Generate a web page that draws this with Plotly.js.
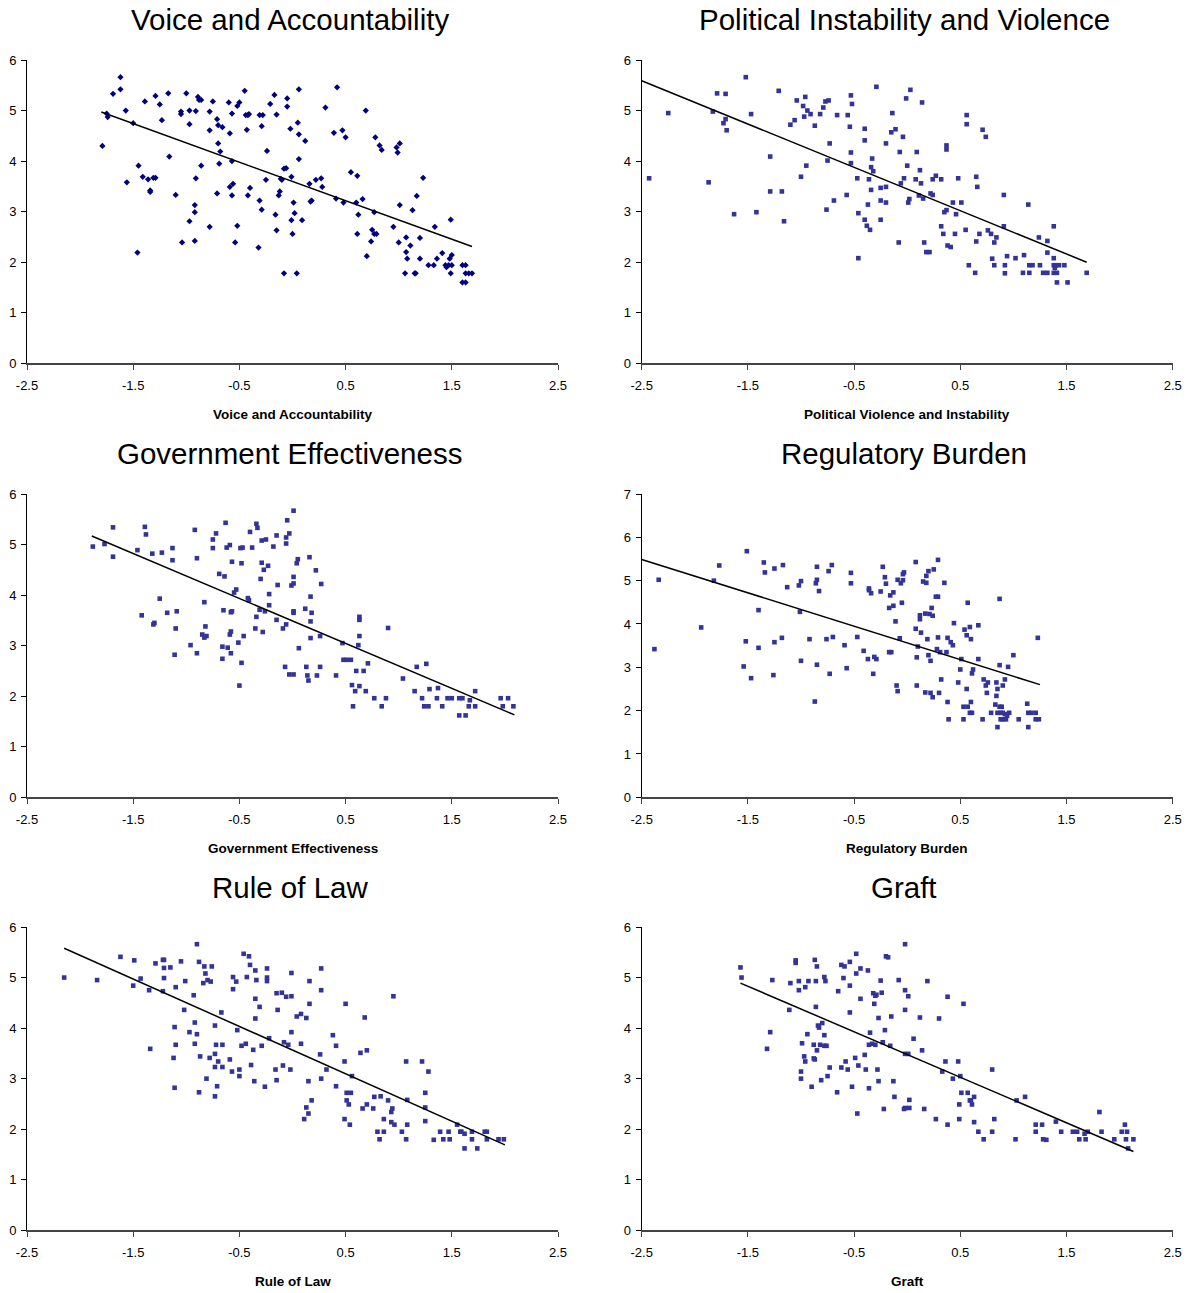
<!DOCTYPE html>
<html>
<head>
<meta charset="utf-8">
<script src="https://cdn.plot.ly/plotly-3.0.1.min.js"></script>
<style>html,body{margin:0;padding:0;background:#fff;}#chart{width:1196px;height:1293px;}</style>
</head>
<body>
<div id="chart"></div>
<script>
// ---------- data ----------
var panelTitles = ["Voice and Accountability", "Political Instability and Violence", "Government Effectiveness", "Regulatory Burden", "Rule of Law", "Graft"];
var axisTitles = ["Voice and Accountability", "Political Violence and Instability", "Government Effectiveness", "Regulatory Burden", "Rule of Law", "Graft"];
var xTickVals = [-2.5, -1.5, -0.5, 0.5, 1.5, 2.5];
var xTickText = ["-2.5", "-1.5", "-0.5", "0.5", "1.5", "2.5"];
var yMax = [6, 6, 6, 7, 6, 6];

var va_x = [-1.79,-1.75,-1.74,-1.69,-1.62,-1.62,-1.57,-1.56,-1.50,-1.46,
-1.45,-1.41,-1.39,-1.36,-1.34,-1.34,-1.31,-1.29,-1.29,-1.25,
-1.23,-1.17,-1.16,-1.10,-1.05,-1.05,-1.04,-1.00,-0.97,-0.97,
-0.97,-0.92,-0.92,-0.92,-0.91,-0.91,-0.89,-0.88,-0.86,-0.86,
-0.78,-0.78,-0.78,-0.75,-0.71,-0.71,-0.70,-0.70,-0.69,-0.68,
-0.66,-0.60,-0.59,-0.59,-0.57,-0.57,-0.57,-0.56,-0.54,-0.52,
-0.52,-0.50,-0.45,-0.44,-0.43,-0.42,-0.41,-0.42,-0.40,-0.32,
-0.31,-0.31,-0.29,-0.29,-0.28,-0.25,-0.24,-0.21,-0.17,-0.16,
-0.15,-0.15,-0.13,-0.12,-0.11,-0.10,-0.08,-0.08,-0.06,-0.05,
-0.05,-0.02,-0.01,0.00,-0.01,0.01,0.02,0.04,0.05,0.06,
0.06,0.06,
0.09,0.12,0.16,0.17,0.18,0.22,0.27,0.28,0.31,0.39,
0.41,0.42,0.47,0.48,0.50,0.55,0.60,0.61,0.61,0.62,
0.66,0.69,0.70,0.74,0.75,0.77,0.77,0.79,0.78,0.82,
0.84,0.95,0.98,0.99,1.01,1.00,1.01,1.07,1.07,1.08,
1.06,1.11,1.13,1.15,1.16,1.17,1.20,1.20,1.23,1.28,
1.33,1.34,1.36,1.41,1.44,1.45,1.47,1.48,1.49,1.50,
1.49,1.50,1.60,1.63,1.60,1.63,1.63,1.66,1.69];
var va_y = [4.30,4.94,4.87,5.33,5.66,5.42,5.00,3.58,4.75,2.19,
3.91,3.69,5.18,3.64,3.42,3.39,3.67,3.67,5.29,5.12,
4.81,5.34,4.09,3.33,4.98,4.93,2.39,5.34,4.73,5.00,
2.81,3.13,2.99,2.42,4.99,3.66,5.27,5.21,5.21,3.91,
4.98,4.61,2.70,5.18,4.83,3.36,4.71,4.35,3.95,4.19,
4.67,5.16,4.55,3.49,4.94,4.00,3.32,3.55,2.39,2.72,
5.09,5.16,5.39,4.91,4.62,4.91,4.93,3.32,3.47,2.29,
4.91,3.22,3.04,4.69,4.91,3.63,4.20,5.13,5.31,2.94,
4.92,2.63,3.32,3.40,3.65,3.63,1.78,3.85,3.86,5.24,
5.08,4.64,3.69,2.56,2.83,3.18,2.97,1.78,4.76,5.42,
4.53,4.04,
2.83,4.40,3.55,3.20,3.22,3.63,3.66,3.49,5.06,4.56,
3.26,5.46,4.61,3.18,4.47,3.78,3.18,3.71,2.56,2.94,
3.25,5.00,2.12,2.41,2.64,2.99,2.56,2.56,4.47,4.31,
4.22,2.70,4.27,4.17,4.35,2.39,3.13,2.49,2.20,2.07,
1.78,2.33,3.03,1.78,1.78,3.31,2.48,2.07,3.67,1.94,
1.94,2.70,2.07,2.18,1.94,1.90,1.94,2.07,2.84,2.14,
1.78,1.94,1.94,1.94,1.60,1.60,1.78,1.78,1.78];

var pv_x = [-2.43,-2.25,-1.87,-1.83,-1.79,-1.73,-1.71,-1.71,-1.70,-1.63,
-1.52,-1.47,-1.42,-1.29,-1.29,-1.21,-1.18,-1.16,-1.10,-1.06,
-1.04,-1.00,-0.98,-0.97,-0.96,-0.95,-0.94,-0.91,-0.87,-0.82,
-0.79,-0.77,-0.76,-0.75,-0.74,-0.73,-0.69,-0.66,-0.57,-0.56,
-0.54,-0.53,-0.52,-0.53,-0.53,-0.47,-0.46,-0.46,-0.40,-0.40,
-0.40,-0.38,-0.37,-0.36,-0.35,-0.34,-0.34,-0.33,-0.32,-0.29,
-0.25,-0.25,-0.25,-0.20,-0.20,-0.20,-0.15,-0.14,-0.11,-0.08,
-0.07,-0.06,-0.04,-0.03,-0.01,0.00,0.01,0.02,0.03,
0.09,0.12,0.08,0.13,0.11,0.15,0.14,0.16,0.18,0.21,
0.22,0.24,0.24,0.27,0.32,0.32,0.34,0.35,0.37,0.37,
0.37,0.38,0.41,0.43,0.45,0.46,0.48,0.51,0.55,0.56,
0.56,0.58,0.64,0.65,0.65,0.66,0.68,0.71,0.74,0.76,
0.79,0.82,0.84,0.80,0.82,0.91,0.91,0.92,0.92,0.94,
1.02,1.09,1.10,1.14,1.15,1.15,1.18,1.24,1.25,1.28,
1.32,1.32,1.32,1.38,1.38,1.38,1.39,1.40,1.43,1.38,
1.41,1.41,1.48,1.51,1.69];
var pv_y = [3.66,4.95,3.58,4.98,5.34,4.75,5.33,4.83,4.61,2.95,
5.66,4.93,2.99,4.09,3.40,5.39,3.40,2.81,4.72,4.81,
5.20,3.69,5.09,4.88,5.27,3.91,5.00,4.93,4.70,4.93,
5.06,5.18,3.04,4.01,5.20,4.35,3.22,4.91,3.33,4.91,
4.68,5.30,5.13,4.17,3.96,3.66,2.97,2.08,4.64,4.41,
2.84,2.72,3.14,3.64,2.64,3.88,3.43,4.05,3.80,5.47,
3.47,3.22,2.84,3.49,3.18,4.35,4.57,4.95,4.63,2.39,
4.18,3.56,4.48,3.66,5.24,3.91,3.18,3.25,5.41,
4.18,3.82,3.64,3.56,3.32,3.26,5.16,2.39,2.20,2.20,
3.36,3.33,3.64,3.71,3.64,2.71,2.56,2.99,3.03,4.31,
4.23,2.33,2.30,3.18,2.56,2.95,3.66,3.18,2.64,4.91,
4.73,1.94,1.79,2.41,3.69,3.49,2.56,4.62,4.48,2.63,
2.56,2.39,2.49,2.07,1.94,3.33,2.71,1.94,1.78,2.12,
2.08,1.79,2.14,3.14,1.94,1.79,1.94,2.49,1.94,1.79,
1.79,2.42,2.19,2.71,2.08,1.94,1.89,1.94,1.94,1.79,
1.79,1.60,1.94,1.60,1.79];

var ge_x = [-1.88,-1.77,-1.69,-1.69,-1.46,-1.42,-1.39,-1.38,-1.32,-1.31,
-1.30,-1.25,-1.23,-1.18,-1.13,-1.13,-1.11,-1.10,-1.09,-0.96,
-0.92,-0.90,-0.90,-0.85,-0.83,-0.83,-0.82,-0.81,-0.75,-0.75,
-0.72,-0.69,-0.66,-0.66,-0.65,-0.64,-0.63,-0.62,-0.61,-0.59,
-0.59,-0.58,-0.57,-0.58,-0.58,-0.57,-0.55,-0.53,-0.51,-0.50,
-0.49,-0.48,-0.48,-0.47,-0.46,-0.42,-0.41,-0.40,-0.38,-0.35,
-0.34,-0.34,-0.33,-0.31,-0.30,-0.29,-0.29,-0.28,-0.26,-0.27,
-0.25,-0.23,-0.22,-0.22,-0.18,-0.15,-0.15,-0.09,-0.07,-0.06,
-0.06,-0.06,-0.05,-0.03,-0.03,-0.01,0.01,0.01,0.01,0.01,
0.01,0.01,0.04,0.05,0.06,-0.14,
0.12,0.13,0.14,0.15,0.16,0.17,0.18,0.17,0.17,0.22,
0.23,0.26,0.26,0.27,0.41,0.47,0.48,0.51,0.55,0.56,
0.57,0.59,0.60,0.62,0.63,0.63,0.63,0.63,0.67,0.69,
0.71,0.77,0.84,0.88,0.90,1.04,1.15,1.17,1.22,1.24,
1.26,1.28,1.29,1.36,1.37,1.41,1.46,1.50,1.57,1.60,
1.57,1.63,1.66,1.67,1.72,1.72,1.96,2.03,1.98,2.08];
var ge_y = [4.96,5.01,5.34,4.76,4.89,3.60,5.35,5.20,4.82,3.42,
3.45,3.93,4.84,3.65,4.93,4.69,2.82,3.34,3.68,3.01,
5.29,4.73,2.85,3.22,3.16,3.86,3.38,3.19,5.10,4.93,
5.22,4.42,2.98,2.74,3.70,4.37,5.43,4.94,2.96,3.22,
4.99,3.66,3.68,3.28,2.85,4.66,4.05,4.11,3.06,2.21,
4.93,2.66,4.63,4.94,3.19,3.94,3.90,5.25,4.94,3.34,
3.57,5.41,5.33,3.71,4.32,5.08,4.64,3.27,3.68,4.50,
5.10,4.58,4.02,3.80,4.96,3.51,5.18,3.34,2.58,5.02,
5.14,3.42,5.48,5.22,2.43,4.19,4.36,2.43,4.23,5.67,
3.65,3.68,4.63,4.71,2.95,4.20,
3.73,2.58,2.41,2.31,4.75,3.97,3.65,3.48,3.15,4.49,
2.41,2.58,3.19,4.22,2.41,3.05,2.72,2.72,2.72,2.22,
1.80,2.10,2.50,3.01,3.57,3.51,2.20,3.19,2.50,2.10,
2.65,1.96,1.80,1.96,3.35,2.35,2.10,2.58,1.96,1.80,
2.64,1.80,2.14,1.96,2.16,1.80,1.96,1.96,1.96,1.96,
1.62,1.62,1.80,1.92,2.10,1.80,1.96,1.96,1.80,1.80];

var rb_x = [-2.38,-2.34,-1.94,-1.82,-1.77,-1.54,-1.52,-1.51,-1.47,-1.40,
-1.40,-1.35,-1.34,-1.26,-1.25,-1.25,-1.18,-1.17,-1.13,-1.02,
-1.01,-1.00,-1.00,-0.92,-0.87,-0.86,-0.85,-0.85,-0.85,-0.83,
-0.76,-0.74,-0.73,-0.71,-0.70,-0.59,-0.57,-0.53,-0.53,-0.47,
-0.41,-0.37,-0.36,-0.36,-0.34,-0.32,-0.31,-0.29,-0.25,-0.23,
-0.21,-0.20,-0.17,-0.17,-0.16,-0.15,-0.13,-0.13,-0.11,-0.10,
-0.09,-0.09,-0.07,-0.06,-0.05,-0.04,-0.04,-0.03,
0.08,0.29,0.25,0.20,0.18,0.15,0.18,0.35,0.27,0.29,
0.57,0.87,0.23,0.12,0.12,0.17,0.21,0.24,0.44,0.08,
0.13,0.54,0.59,0.67,0.56,0.60,0.19,0.29,0.38,0.41,
0.43,0.10,0.28,0.31,0.37,1.23,0.09,0.20,0.22,0.51,
0.67,1.00,0.50,0.62,0.61,0.87,0.95,0.32,0.48,0.72,
0.76,0.74,0.84,0.90,0.92,0.85,0.56,0.09,0.17,0.22,
0.24,0.30,0.75,0.84,0.38,0.53,0.57,0.60,0.59,0.61,
0.79,0.83,0.87,0.89,0.85,0.88,0.90,0.92,0.96,0.94,
1.13,1.14,1.17,1.21,0.39,0.53,0.71,0.88,0.90,0.93,
1.05,1.21,1.24,0.85,1.14];
var rb_y = [3.42,5.02,3.92,5.00,5.35,3.02,3.60,5.68,2.75,4.32,
3.45,5.42,5.19,2.82,3.58,5.28,3.68,5.36,4.85,4.89,
4.28,3.15,4.99,3.65,2.21,4.94,3.06,5.02,5.32,4.76,
3.65,5.22,2.85,5.36,3.70,3.51,2.98,5.18,4.94,3.70,
3.38,3.19,4.78,4.82,4.71,2.85,3.24,3.19,4.75,5.32,
5.08,4.93,3.35,4.37,4.66,3.35,4.42,4.73,4.06,2.58,
2.45,5.02,3.67,4.94,4.49,5.01,5.15,5.19,
5.43,5.48,5.26,5.22,5.11,4.98,4.95,4.95,4.63,4.63,
4.49,4.58,4.37,4.20,4.11,4.24,4.23,4.19,4.02,3.89,
3.80,3.87,3.93,3.97,3.74,3.65,3.65,3.69,3.68,3.58,
3.51,3.48,3.42,3.35,3.35,3.68,3.23,3.28,3.15,3.19,
3.19,3.28,2.95,2.95,2.86,3.05,3.01,2.72,2.65,2.72,
2.65,2.58,2.65,2.58,2.72,2.50,2.50,2.58,2.42,2.41,
2.31,2.41,2.41,2.34,2.20,2.09,2.09,2.20,1.95,1.95,
1.95,2.14,2.09,2.09,1.95,1.95,1.95,1.92,1.95,1.88,
2.16,1.95,1.95,1.95,1.80,1.80,1.80,1.80,1.80,1.80,
1.80,1.80,1.80,1.62,1.62];

var rl_x = [-2.15,-1.84,-1.62,-1.50,-1.49,-1.43,-1.35,-1.34,-1.29,-1.22,
-1.21,-1.22,-1.21,-1.21,-1.15,-1.11,-1.10,-1.12,-1.11,-1.10,
-1.05,-1.02,-1.01,-0.97,-0.93,-0.92,-0.92,-0.90,-0.90,-0.88,
-0.88,-0.87,-0.84,-0.83,-0.82,-0.81,-0.80,-0.78,-0.77,-0.76,
-0.73,-0.73,-0.73,-0.73,-0.72,-0.71,-0.70,-0.67,-0.66,-0.66,
-0.59,-0.57,-0.56,-0.56,-0.53,-0.52,-0.50,-0.50,-0.48,-0.46,
-0.44,-0.43,-0.41,-0.40,-0.39,-0.37,-0.36,-0.35,-0.35,-0.35,
-0.34,-0.31,-0.29,-0.26,-0.24,-0.24,-0.24,-0.22,-0.16,-0.15,
-0.15,-0.14,-0.10,-0.09,-0.08,-0.06,-0.04,-0.02,-0.01,-0.01,
-0.01,0.04,0.08,0.08,
0.16,0.27,0.27,0.16,0.13,0.15,0.18,0.13,0.15,0.11,
0.26,0.27,0.32,0.38,0.41,0.41,0.50,0.49,0.51,0.55,
0.51,0.53,0.49,0.54,0.56,0.64,0.68,0.70,0.66,0.70,
0.76,0.77,0.83,0.80,0.86,0.82,0.86,0.90,0.93,0.94,
0.93,0.96,0.95,1.03,1.07,1.07,1.08,1.08,1.22,1.25,
1.25,1.25,1.28,1.33,1.39,1.42,1.47,1.48,1.55,1.58,
1.59,1.62,1.62,1.69,1.69,1.74,1.81,1.83,1.83,1.94,
1.99];
var rl_y = [5.00,4.95,5.41,4.84,5.34,4.98,4.75,3.59,5.28,5.35,
5.35,4.73,5.19,4.99,5.20,4.02,3.67,3.41,2.82,4.81,
5.32,4.36,4.93,3.92,4.65,4.11,3.69,3.88,5.66,5.31,
2.73,3.44,4.89,5.22,5.08,3.00,4.95,3.41,4.92,5.22,
3.49,4.05,3.23,2.65,3.67,2.85,3.34,4.31,3.23,3.67,
3.38,3.14,5.01,4.77,4.92,3.96,3.18,3.05,3.65,5.47,
3.69,5.01,5.42,5.25,3.27,3.57,2.95,4.58,4.19,5.14,
4.95,4.42,3.65,2.84,5.18,5.00,4.93,3.80,3.18,2.97,
4.69,4.36,4.70,3.26,3.72,4.62,3.67,3.18,5.09,4.63,
3.92,4.23,4.28,3.69,
4.93,5.18,4.75,4.48,4.20,2.95,2.57,2.43,2.31,2.20,
3.48,3.00,3.18,3.86,3.65,2.85,4.48,3.34,2.72,2.72,
2.57,2.49,2.20,2.09,3.05,3.51,4.21,3.56,2.41,2.49,
2.41,2.64,2.65,1.95,1.95,1.80,2.20,2.57,2.34,2.41,
2.14,2.09,4.63,1.95,3.34,1.80,2.58,2.09,3.34,2.72,
2.43,2.16,3.14,1.79,1.95,1.80,1.95,1.80,2.09,1.95,
1.95,1.91,1.62,1.95,1.80,1.62,1.95,1.95,1.80,1.80,
1.80];

var gr_x = [-1.57,-1.56,-1.32,-1.29,-1.27,-1.11,-1.10,-1.05,-1.05,-1.02,
-1.02,-1.00,-1.00,-0.99,-0.97,-0.96,-0.96,-0.94,-0.93,-0.90,
-0.88,-0.88,-0.87,-0.87,-0.86,-0.86,-0.85,-0.85,-0.84,-0.83,
-0.82,-0.81,-0.80,-0.78,-0.78,-0.77,-0.78,-0.76,-0.75,-0.73,
-0.66,-0.65,-0.62,-0.62,-0.60,-0.59,-0.58,-0.56,-0.54,-0.54,
-0.54,-0.52,-0.49,-0.48,-0.48,-0.46,-0.47,-0.44,-0.44,-0.40,
-0.39,-0.37,-0.36,-0.35,-0.36,-0.33,-0.32,-0.31,-0.30,-0.30,
-0.29,-0.28,-0.27,-0.27,-0.25,-0.24,-0.23,-0.22,-0.21,-0.20,
-0.18,-0.16,-0.15,-0.13,-0.12,-0.08,-0.03,-0.02,-0.02,-0.02,
-0.02,-0.02,0.01,0.01,0.02,0.02,
0.06,0.12,0.14,0.16,0.19,0.27,0.30,0.33,0.36,0.38,
0.38,0.43,0.48,0.49,0.50,0.49,0.51,0.53,0.57,0.59,
0.60,0.61,0.63,0.63,0.67,0.72,0.80,0.80,0.82,1.02,
1.03,1.11,1.21,1.21,1.27,1.28,1.31,1.40,1.45,1.56,
1.60,1.62,1.67,1.68,1.70,1.81,1.83,1.95,2.02,2.05,
2.07,2.06,2.08,2.13];
var gr_y = [5.20,5.00,3.59,3.92,4.95,4.36,4.89,5.34,5.29,4.93,
4.75,3.14,3.00,3.70,3.44,3.34,4.81,3.88,4.93,2.84,
3.67,3.40,3.38,5.35,4.93,4.42,3.56,5.22,4.05,4.01,
3.67,2.97,4.10,5.01,3.86,4.93,3.65,3.65,3.05,3.22,
2.73,4.73,5.25,3.22,4.99,5.22,3.34,3.18,5.31,4.31,
4.84,2.84,3.41,5.47,5.08,3.26,2.31,5.18,4.58,3.47,
3.18,5.14,2.81,3.91,3.67,3.69,4.69,4.48,4.64,3.67,
4.66,3.18,4.20,2.95,4.94,4.70,3.72,2.40,3.96,5.42,
5.40,3.65,4.23,2.95,2.64,4.95,2.40,2.42,4.75,4.36,
5.66,3.49,3.49,4.63,2.58,2.42,
3.79,4.21,3.56,2.40,4.93,2.20,4.19,3.14,3.34,4.62,
2.09,3.00,3.34,2.49,3.05,2.20,2.72,4.48,2.72,2.57,
2.57,2.49,2.64,2.14,1.95,1.80,1.95,3.18,2.20,1.80,
2.57,2.64,2.09,1.95,2.09,1.80,1.79,2.15,1.95,1.95,
1.95,1.80,1.91,1.80,1.95,2.34,1.95,1.80,1.95,2.09,
1.95,1.80,1.62,1.80];

// trend lines (end points)
var va_trend_x = [-1.80, 1.69], va_trend_y = [4.97, 2.31];
var pv_trend_x = [-2.50, 1.69], pv_trend_y = [5.59, 2.00];
var ge_trend_x = [-1.89, 2.09], ge_trend_y = [5.17, 1.63];
var rb_trend_x = [-2.50, 1.25], rb_trend_y = [5.49, 2.60];
var rl_trend_x = [-2.15, 2.00], rl_trend_y = [5.58, 1.69];
var gr_trend_x = [-1.57, 2.13], gr_trend_y = [4.89, 1.56];

// ---------- build ----------
var series = [
  {x: va_x, y: va_y, tx: va_trend_x, ty: va_trend_y, sym: 'diamond', col: '#000080', size: 4.8},
  {x: pv_x, y: pv_y, tx: pv_trend_x, ty: pv_trend_y, sym: 'square', col: '#333399', size: 4.6},
  {x: ge_x, y: ge_y, tx: ge_trend_x, ty: ge_trend_y, sym: 'square', col: '#333399', size: 4.6},
  {x: rb_x, y: rb_y, tx: rb_trend_x, ty: rb_trend_y, sym: 'square', col: '#333399', size: 4.6},
  {x: rl_x, y: rl_y, tx: rl_trend_x, ty: rl_trend_y, sym: 'square', col: '#333399', size: 4.6},
  {x: gr_x, y: gr_y, tx: gr_trend_x, ty: gr_trend_y, sym: 'square', col: '#333399', size: 4.6}
];

var W = 1196, H = 1293;
var colPx = [[27, 558], [641.7, 1172.7]];
var rowPx = [[60, 363.3], [494, 797.3], [927, 1230.3]];
var titleY = [20, 453, 887];
var axTitleY = [414, 848, 1281];
var FONT = 'Liberation Sans, Arial, sans-serif';

var traces = [];
var layout = {
  width: W, height: H,
  margin: {l: 0, r: 0, t: 0, b: 0},
  paper_bgcolor: '#fff', plot_bgcolor: '#fff',
  showlegend: false,
  font: {family: FONT, color: '#000'},
  annotations: []
};

series.forEach(function (s, i) {
  var r = Math.floor(i / 2), c = i % 2;
  var n = i + 1;
  var xa = 'x' + (n === 1 ? '' : n), ya = 'y' + (n === 1 ? '' : n);
  traces.push({
    type: 'scatter', mode: 'markers', x: s.x, y: s.y, xaxis: xa, yaxis: ya,
    marker: {symbol: s.sym, color: s.col, size: s.size, line: {width: 0}},
    hoverinfo: 'x+y', cliponaxis: false
  });
  traces.push({
    type: 'scatter', mode: 'lines', x: s.tx, y: s.ty, xaxis: xa, yaxis: ya,
    line: {color: '#000', width: 1.5}, hoverinfo: 'skip'
  });
  var xd = [colPx[c][0] / W, colPx[c][1] / W];
  var yd = [1 - rowPx[r][1] / H, 1 - rowPx[r][0] / H];
  layout['xaxis' + (n === 1 ? '' : n)] = {
    domain: xd, anchor: ya, range: [-2.5, 2.5], fixedrange: true,
    tickmode: 'array', tickvals: xTickVals, ticktext: xTickText,
    ticks: 'outside', ticklen: 5, tickwidth: 1, tickcolor: '#444',
    showline: true, linecolor: '#444', linewidth: 1.5,
    showgrid: false, zeroline: false, automargin: false,
    tickfont: {family: FONT, size: 13, color: '#000'}, ticklabelstandoff: 5
  };
  layout['yaxis' + (n === 1 ? '' : n)] = {
    domain: yd, anchor: xa, range: [0, yMax[i]], fixedrange: true,
    tickmode: 'linear', tick0: 0, dtick: 1,
    ticks: 'outside', ticklen: 5, tickwidth: 1, tickcolor: '#000',
    showline: true, linecolor: '#000', linewidth: 1,
    showgrid: false, zeroline: false, automargin: false,
    tickfont: {family: FONT, size: 13, color: '#000'}, ticklabelstandoff: 2
  };
  var cx = (colPx[c][0] + colPx[c][1]) / 2;
  layout.annotations.push({
    xref: 'paper', yref: 'paper', x: (cx - 3) / W, y: 1 - titleY[r] / H,
    xanchor: 'center', yanchor: 'middle', showarrow: false,
    text: panelTitles[i], font: {family: FONT, size: 29.5, color: '#000'}
  });
  layout.annotations.push({
    xref: 'paper', yref: 'paper', x: cx / W, y: 1 - axTitleY[r] / H,
    xanchor: 'center', yanchor: 'middle', showarrow: false,
    text: '<b>' + axisTitles[i] + '</b>', font: {family: FONT, size: 13.5, color: '#000'}
  });
});

Plotly.newPlot('chart', traces, layout, {staticPlot: true, displayModeBar: false});
</script>
</body>
</html>
